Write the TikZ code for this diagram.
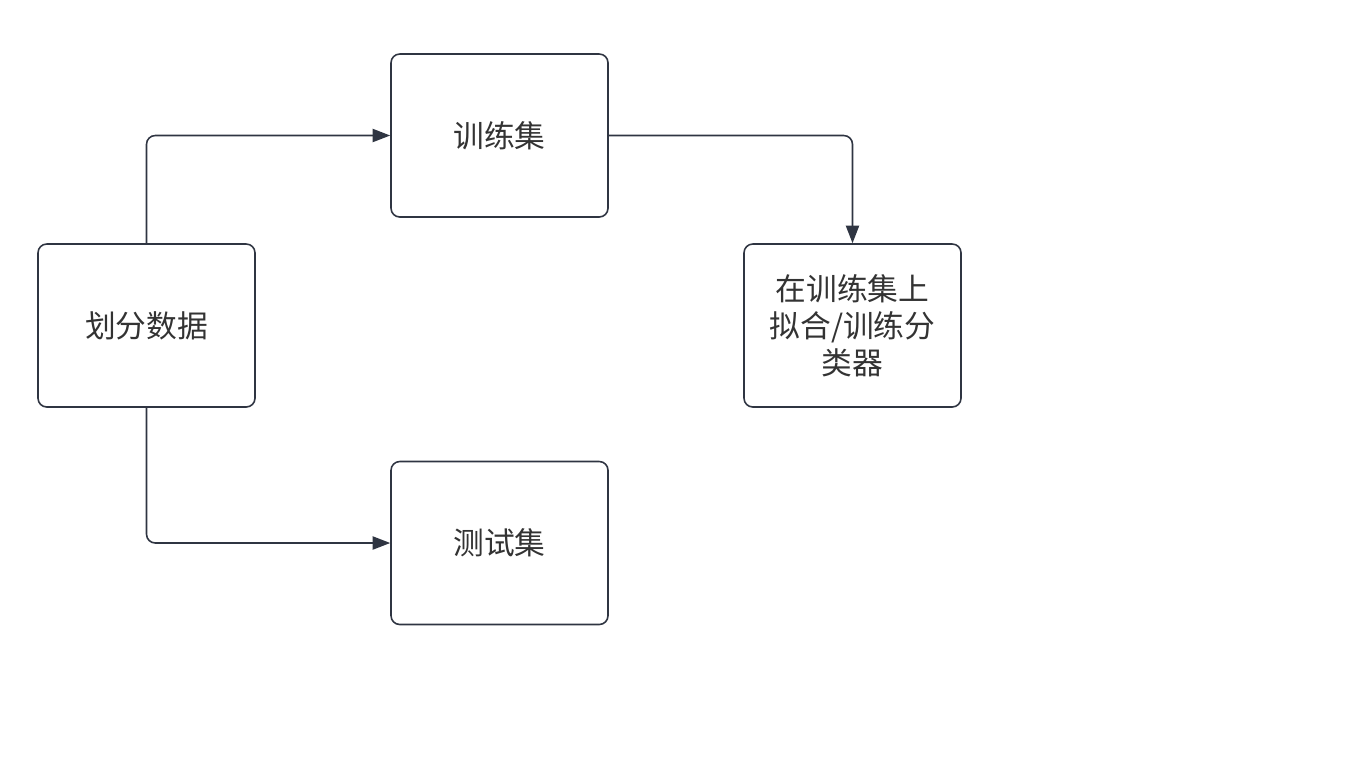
\documentclass[tikz,border=0pt]{standalone}
\usepackage{fontspec}
\setmainfont{Noto Sans CJK SC}
\usetikzlibrary{arrows.meta}
\definecolor{ln}{HTML}{2F3542}
\definecolor{tx}{HTML}{333333}
\begin{document}
\begin{tikzpicture}[x=0.02cm,y=-0.02cm,
  box/.style={draw=ln,line width=0.9pt,rounded corners=5pt,minimum width=217*0.02cm,minimum height=163*0.02cm,align=center,text=tx,font=\fontsize{17.5}{21}\selectfont,inner sep=0pt},
  conn/.style={draw=ln,line width=0.9pt,rounded corners=5pt,-{Triangle[length=10pt,width=7.5pt]}}]
\useasboundingbox (0,0) rectangle (1364,768);
\node[box] (split) at (146.5,325.5) {划分数据};
\node[box] (train) at (499.5,135.5) {训练集};
\node[box] (test) at (499.5,543) {测试集};
\node[box,text width=190*0.02cm] (fit) at (852.5,325.5) {在训练集上\\拟合/训练分\\类器};
\draw[conn] (split.north) |- (train.west);
\draw[conn] (split.south) |- (test.west);
\draw[conn] (train.east) -| (fit.north);
\end{tikzpicture}
\end{document}
